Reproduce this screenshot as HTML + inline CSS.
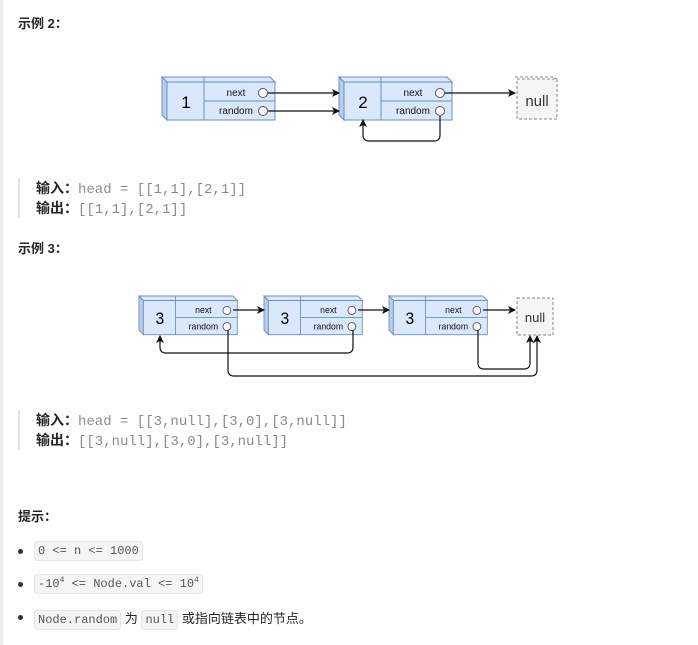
<!DOCTYPE html>
<html><head><meta charset="utf-8"><style>
body{margin:0;width:698px;height:645px;background:#fff;position:relative;overflow:hidden;font-family:"Liberation Sans","Noto Sans CJK SC",sans-serif;color:#262626}
.lb{position:absolute;left:0;top:0;width:3px;height:645px;background:#ececec}
.t{position:absolute;white-space:nowrap}
.h{font-weight:bold;font-size:13px}
.bq{position:absolute;left:18px;width:2px;background:#e3e3e3}
.q{font-size:14px;line-height:20px}
.q b{color:#262626}
.m{font-family:"Liberation Mono",monospace;color:#8a8a8a}
.li{font-size:13px}
.dot{position:absolute;left:18px;width:5px;height:5px;border-radius:50%;background:#333}
code{font-family:"Liberation Mono",monospace;font-size:12px;color:#555;background:#f5f5f5;border:1px solid #e6e6e6;border-radius:4px;padding:2px 3px}
svg{position:absolute;left:0;top:0}
</style></head><body>
<div class="lb"></div>
<div class="t h" style="left:18px;top:13px">示例 2：</div>
<div class="bq" style="top:178px;height:40px"></div>
<div class="t q" style="left:36px;top:178px"><b>输入：</b><span class="m">head = [[1,1],[2,1]]</span></div>
<div class="t q" style="left:36px;top:198px"><b>输出：</b><span class="m">[[1,1],[2,1]]</span></div>
<div class="t h" style="left:18px;top:238px">示例 3：</div>
<div class="bq" style="top:410px;height:40px"></div>
<div class="t q" style="left:36px;top:410px"><b>输入：</b><span class="m">head = [[3,null],[3,0],[3,null]]</span></div>
<div class="t q" style="left:36px;top:430px"><b>输出：</b><span class="m">[[3,null],[3,0],[3,null]]</span></div>
<div class="t h" style="left:18px;top:506px">提示：</div>
<div class="dot" style="top:549px"></div>
<div class="t li" style="left:34px;top:542px"><code>0 &lt;= n &lt;= 1000</code></div>
<div class="dot" style="top:582px"></div>
<div class="t li" style="left:34px;top:575px"><code>-10<sup style="font-size:8px">4</sup> &lt;= Node.val &lt;= 10<sup style="font-size:8px">4</sup></code></div>
<div class="dot" style="top:615px"></div>
<div class="t li" style="left:34px;top:608px"><code>Node.random</code> 为 <code>null</code> 或指向链表中的节点。</div>

<svg width="698" height="645" xmlns="http://www.w3.org/2000/svg">
<defs>
<marker id="a" markerWidth="8" markerHeight="8" refX="7" refY="4" orient="auto" markerUnits="userSpaceOnUse"><path d="M0,0 L8,4 L0,8 L2,4z" fill="#111"/></marker>
<g id="node">
<polygon points="0,0 108,0 113,5 5,5" fill="#dae8fc" stroke="#6c8ebf"/>
<polygon points="0,0 5,5 5,43 0,38" fill="#b9cde8" stroke="#6c8ebf"/>
<rect x="5" y="5" width="108" height="38" fill="#dae8fc" stroke="#6c8ebf"/>
<line x1="42" y1="0" x2="42" y2="43" stroke="#6c8ebf"/>
<line x1="42" y1="24" x2="113" y2="24" stroke="#6c8ebf"/>
<circle cx="101" cy="16" r="4.5" fill="#fff" stroke="#555"/>
<circle cx="101" cy="34" r="4.5" fill="#fff" stroke="#555"/>
<text x="74" y="19" font-size="10" text-anchor="middle" font-family="Liberation Sans" fill="#111">next</text>
<text x="74" y="37" font-size="10" text-anchor="middle" font-family="Liberation Sans" fill="#111">random</text>
</g>
</defs>
<g font-family="Liberation Sans">
<g transform="translate(162,77)"><use href="#node"/><text x="24" y="31" font-size="17" text-anchor="middle">1</text></g>
<g transform="translate(339,77)"><use href="#node"/><text x="24" y="31" font-size="17" text-anchor="middle">2</text></g>
<rect x="517" y="79" width="40" height="40" fill="#f5f5f5" stroke="#888" stroke-dasharray="3,2"/>
<polyline points="515,77 553,77 557,79" fill="none" stroke="#888" stroke-dasharray="3,2"/>
<text x="537" y="106" font-size="15" text-anchor="middle" fill="#333">null</text>
<g stroke="#111" fill="none" stroke-width="1.2">
<line x1="268" y1="93" x2="339" y2="93" marker-end="url(#a)"/>
<line x1="268" y1="111" x2="339" y2="111" marker-end="url(#a)"/>
<line x1="445" y1="93" x2="515" y2="93" marker-end="url(#a)"/>
<path d="M440,116 V135 q0,6 -6,6 H369 q-6,0 -6,-6 V120" marker-end="url(#a)"/>
</g>
</g>
<g font-family="Liberation Sans">
<g transform="translate(139,296) scale(0.87,0.9)"><use href="#node"/><text x="24" y="31" font-size="18" text-anchor="middle">3</text></g>
<g transform="translate(264,296) scale(0.87,0.9)"><use href="#node"/><text x="24" y="31" font-size="18" text-anchor="middle">3</text></g>
<g transform="translate(389,296) scale(0.87,0.9)"><use href="#node"/><text x="24" y="31" font-size="18" text-anchor="middle">3</text></g>
<rect x="517" y="298" width="36" height="37" fill="#f5f5f5" stroke="#888" stroke-dasharray="3,2"/>
<text x="535" y="322" font-size="13" text-anchor="middle" fill="#333">null</text>
<g stroke="#111" fill="none" stroke-width="1.2">
<line x1="233" y1="310" x2="264" y2="310" marker-end="url(#a)"/>
<line x1="358" y1="310" x2="389" y2="310" marker-end="url(#a)"/>
<line x1="483" y1="310" x2="515" y2="310" marker-end="url(#a)"/>
<path d="M353,330 V347 q0,6 -6,6 H166 q-6,0 -6,-6 V336" marker-end="url(#a)"/>
<path d="M228,330 V370 q0,6 6,6 H531 q6,0 6,-6 V336" marker-end="url(#a)"/>
<path d="M478,330 V363 q0,6 6,6 H524 q6,0 6,-6 V336" marker-end="url(#a)"/>
</g>
</g>
</svg>
</body></html>
